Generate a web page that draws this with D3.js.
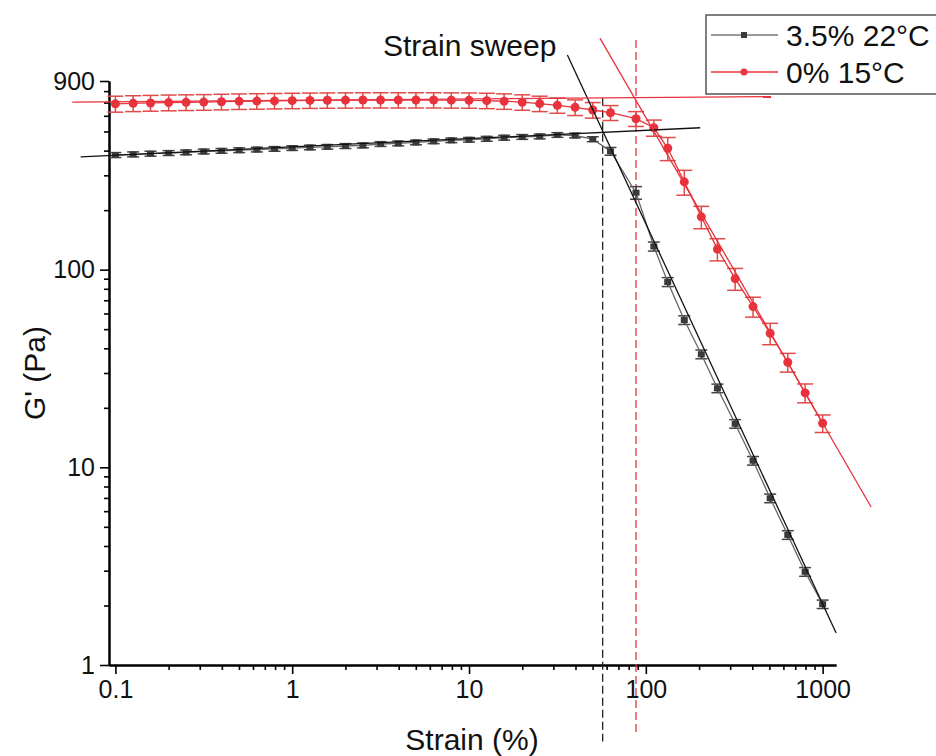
<!DOCTYPE html>
<html>
<head>
<meta charset="utf-8">
<script src="https://cdn.jsdelivr.net/npm/d3@7"></script>
<style>
  body { margin: 0; background: #fff; }
  text { font-family: "Liberation Sans", Arial, sans-serif; }
</style>
</head>
<body>
<svg id="chart" width="936" height="756"></svg>
<script>
// Strain (%) for every measured point
const strain = [0.1, 0.126, 0.158, 0.2, 0.251, 0.316, 0.398, 0.501, 0.631, 0.794,
  1, 1.26, 1.58, 2, 2.51, 3.16, 3.98, 5.01, 6.31, 7.94,
  10, 12.6, 15.8, 20, 25.1, 31.6, 39.8, 50.1, 63.1, 88,
  111, 133, 165, 206, 254, 320, 404, 505, 635, 796, 1000];

// G' (Pa), 3.5% 22°C
const gBlack = [380, 383, 386, 389, 392, 396, 399, 402, 405, 408,
  412, 415, 418, 422, 425, 432, 435, 440, 446, 451,
  454, 459, 465, 469, 472, 480, 477, 457, 397, 245,
  131, 86.6, 55.6, 37.3, 25.1, 16.6, 10.8, 6.97, 4.55, 2.96, 2.03];
const errBlack = [11, 11, 11, 11, 11, 11, 11, 11, 11, 11,
  11, 11, 11, 12, 12, 12, 12, 12, 12, 12,
  12, 13, 13, 13, 13, 13, 13, 13, 18, 18,
  6.9, 4.5, 2.8, 1.9, 1.25, 0.83, 0.54, 0.35, 0.23, 0.15, 0.1];

// G' (Pa), 0% 15°C
const gRed = [690, 694, 697, 700, 702, 704, 707, 710, 712, 714,
  716, 718, 719, 720, 721, 721, 721, 721, 721, 720,
  719, 716, 711, 703, 692, 678, 662, 642, 622, 580,
  522, 411, 278, 185, 127, 90, 65, 47.6, 34, 23.8, 16.7];
const errRed = [64, 64, 64, 64, 64, 64, 64, 64, 64, 64,
  64, 64, 64, 64, 64, 64, 64, 64, 64, 64,
  64, 64, 64, 63, 62, 60, 60, 58, 54, 50,
  49, 55, 40, 24, 16.3, 11.4, 7.5, 5.9, 3.7, 2.6, 1.7];

// fitted lines [strain, G']
const blackPlateauFit = [[0.0636, 372], [203, 522]];
const blackSlopeFit = [[36, 1218], [1192, 1.45]];
const redPlateauFit = [[0.057, 704], [511, 751]];
const redSlopeFit = [[55, 1484], [1880, 6.3]];

// crossover markers [strain, G' top, G' bottom]
const blackCross = [57, 740, 0.41];
const redCross = [88, 1450, 0.44];

const xMajor = [0.1, 1, 10, 100, 1000];
const xMinor = [0.2, 0.3, 0.4, 0.5, 0.6, 0.7, 0.8, 0.9, 2, 3, 4, 5, 6, 7, 8, 9,
  20, 30, 40, 50, 60, 70, 80, 90, 200, 300, 400, 500, 600, 700, 800, 900];
const yMajor = [1, 10, 100, 900];
const yMinor = [2, 3, 4, 5, 6, 7, 8, 9, 20, 30, 40, 50, 60, 70, 80, 90,
  200, 300, 400, 500, 600, 700, 800];

const legendLabels = ['3.5% 22°C', '0% 15°C'];

const RED = '#e8323c';
const DARK = '#3a3a3a';

const svg = d3.select('#chart');

const x = d3.scaleLog().domain([0.092, 1190]).range([109, 836]);
const y = d3.scaleLog().domain([1, 900]).range([665, 81]);

const line = d3.line().x(d => x(d[0])).y(d => y(d[1]));

// axes
const fmt = d => d3.format('~g')(d);
function styleAxis(g) {
  g.select('.domain').attr('stroke', '#000').attr('stroke-width', 2);
  g.selectAll('.tick line').attr('stroke', '#000').attr('stroke-width', 1.6);
  g.selectAll('text').attr('font-size', 25).attr('fill', '#111')
    .attr('font-family', '"Liberation Sans", Arial, sans-serif');
}

svg.append('g').attr('transform', 'translate(0,665)')
  .call(d3.axisBottom(x).tickValues(xMinor).tickSize(5).tickSizeOuter(0).tickFormat(''))
  .call(styleAxis);
svg.append('g').attr('transform', 'translate(0,665)')
  .call(d3.axisBottom(x).tickValues(xMajor).tickSize(9).tickSizeOuter(0).tickPadding(6).tickFormat(fmt))
  .call(styleAxis);

svg.append('g').attr('transform', 'translate(109,0)')
  .call(d3.axisLeft(y).tickValues(yMinor).tickSize(5).tickSizeOuter(0).tickFormat(''))
  .call(styleAxis);
svg.append('g').attr('transform', 'translate(109,0)')
  .call(d3.axisLeft(y).tickValues(yMajor).tickSize(9).tickSizeOuter(0).tickPadding(5).tickFormat(fmt))
  .call(styleAxis);

// axis titles
svg.append('text')
  .attr('x', 472).attr('y', 750)
  .attr('text-anchor', 'middle')
  .attr('font-size', 30)
  .attr('fill', '#111')
  .text('Strain (%)');

svg.append('text')
  .attr('transform', 'translate(45,373) rotate(-90)')
  .attr('text-anchor', 'middle')
  .attr('font-size', 30)
  .attr('fill', '#111')
  .text("G' (Pa)");

// dashed crossover lines
[[blackCross, '#222'], [redCross, RED]].forEach(([c, col]) => {
  svg.append('line')
    .attr('x1', x(c[0])).attr('x2', x(c[0]))
    .attr('y1', y(c[1])).attr('y2', y(c[2]))
    .attr('stroke', col)
    .attr('stroke-width', 1.3)
    .attr('stroke-dasharray', '8,4');
});

// series
const series = [
  { g: gBlack, err: errBlack, color: DARK, lineColor: '#666', barColor: '#444', cap: 6, shape: 'square' },
  { g: gRed, err: errRed, color: RED, lineColor: RED, barColor: '#e04a4a', cap: 8, shape: 'circle' }
];

series.forEach(s => {
  const pts = strain.map((v, i) => ({ s: v, g: s.g[i], e: s.err[i] }));

  const bars = svg.append('g');
  bars.selectAll('line.v')
    .data(pts)
    .enter()
    .append('line')
    .attr('x1', d => x(d.s)).attr('x2', d => x(d.s))
    .attr('y1', d => y(d.g + d.e)).attr('y2', d => y(Math.max(d.g - d.e, 0.5)))
    .attr('stroke', s.barColor).attr('stroke-width', 1.5);
  ['top', 'bot'].forEach(k => {
    bars.selectAll('line.' + k)
      .data(pts)
      .enter()
      .append('line')
      .attr('x1', d => x(d.s) - s.cap).attr('x2', d => x(d.s) + s.cap)
      .attr('y1', d => y(k === 'top' ? d.g + d.e : d.g - d.e))
      .attr('y2', d => y(k === 'top' ? d.g + d.e : d.g - d.e))
      .attr('stroke', s.barColor).attr('stroke-width', 1.5);
  });

  svg.append('path')
    .datum(pts.map(d => [d.s, d.g]))
    .attr('d', line)
    .attr('fill', 'none')
    .attr('stroke', s.lineColor)
    .attr('stroke-width', 1.3);

  if (s.shape === 'circle') {
    svg.append('g').selectAll('circle')
      .data(pts)
      .enter()
      .append('circle')
      .attr('cx', d => x(d.s)).attr('cy', d => y(d.g))
      .attr('r', 4.5)
      .attr('fill', s.color);
  } else {
    svg.append('g').selectAll('rect')
      .data(pts)
      .enter()
      .append('rect')
      .attr('x', d => x(d.s) - 3.5).attr('y', d => y(d.g) - 3)
      .attr('width', 7).attr('height', 6)
      .attr('fill', s.color);
  }
});

// fit lines
[[blackPlateauFit, '#111'], [blackSlopeFit, '#111'], [redPlateauFit, RED], [redSlopeFit, RED]]
  .forEach(([seg, col]) => {
    svg.append('path')
      .datum(seg)
      .attr('d', line)
      .attr('fill', 'none')
      .attr('stroke', col)
      .attr('stroke-width', 1.3);
  });

// annotation
svg.append('text')
  .attr('x', 383).attr('y', 56)
  .attr('font-size', 30)
  .attr('fill', '#111')
  .text('Strain sweep');

// legend
const legend = svg.append('g');
legend.append('rect')
  .attr('x', 706).attr('y', 15)
  .attr('width', 240).attr('height', 79)
  .attr('fill', '#fff')
  .attr('stroke', '#555')
  .attr('stroke-width', 1.5);

const legendItems = [
  { label: legendLabels[0], color: DARK, lineColor: '#777', shape: 'square', cy: 35 },
  { label: legendLabels[1], color: RED, lineColor: RED, shape: 'circle', cy: 72 }
];
legendItems.forEach(d => {
  legend.append('line')
    .attr('x1', 711).attr('x2', 778)
    .attr('y1', d.cy).attr('y2', d.cy)
    .attr('stroke', d.lineColor).attr('stroke-width', 1.3);
  if (d.shape === 'circle') {
    legend.append('circle').attr('cx', 744).attr('cy', d.cy).attr('r', 3.5).attr('fill', d.color);
  } else {
    legend.append('rect').attr('x', 741).attr('y', d.cy - 3).attr('width', 6).attr('height', 6).attr('fill', d.color);
  }
  legend.append('text')
    .attr('x', 786).attr('y', d.cy + 11)
    .attr('font-size', 30)
    .attr('fill', '#111')
    .text(d.label);
});
</script>
</body>
</html>
